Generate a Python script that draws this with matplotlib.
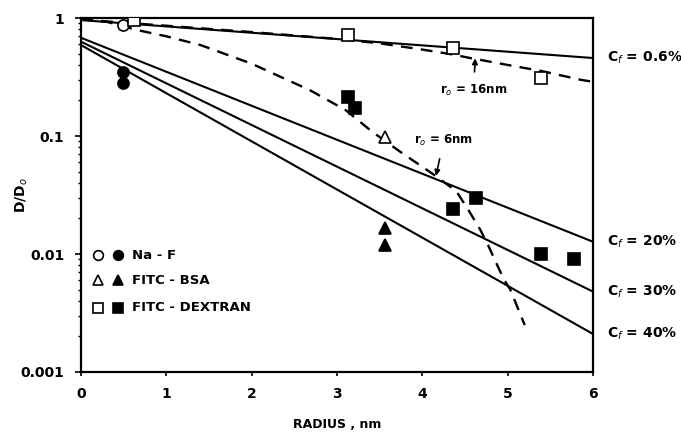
import numpy as np
import matplotlib
matplotlib.use("Agg")
import matplotlib.pyplot as plt

# Fitted lines (C_f): values at radius 0 and 6 nm
cf_labels = ["C$_f$ = 0.6%", "C$_f$ = 20%", "C$_f$ = 30%", "C$_f$ = 40%"]
cf_x = [0, 6]
cf_y = [[0.96, 0.458], [0.68, 0.0127], [0.63, 0.0048], [0.59, 0.0021]]

# Theoretical curves (dashed)
r16_x = [0, 1, 2, 3, 3.5, 4.0, 4.36, 4.56, 5.0, 5.4, 5.85, 6.0]
r16_y = [0.97, 0.86, 0.76, 0.665, 0.61, 0.54, 0.49, 0.458, 0.40, 0.355, 0.30, 0.288]
r6_x = [0, 0.3, 0.66, 1.0, 1.4, 2.0, 2.68, 3.1, 3.41, 3.74, 4.17, 4.40, 4.54, 4.68,
        4.77, 4.95, 5.03, 5.2]
r6_y = [1.0, 0.93, 0.79, 0.70, 0.59, 0.41, 0.245, 0.166, 0.109, 0.0736, 0.0452, 0.0339,
        0.0236, 0.0160, 0.0119, 0.0062, 0.0050, 0.0025]

# Data points
naf_open_x, naf_open_y = [0.49], [0.88]
naf_fill_x, naf_fill_y = [0.49, 0.49], [0.35, 0.28]
bsa_open_x, bsa_open_y = [3.56], [0.098]
bsa_fill_x, bsa_fill_y = [3.56, 3.56], [0.0166, 0.0119]
dex_open_x, dex_open_y = [0.62, 3.13, 4.36, 5.39], [0.96, 0.72, 0.557, 0.31]
dex_fill_x = [3.13, 3.21, 4.36, 4.63, 5.39, 5.78]
dex_fill_y = [0.214, 0.173, 0.024, 0.030, 0.010, 0.0091]

xticks = [0, 1, 2, 3, 4, 5, 6]
yticks = [0.001, 0.01, 0.1, 1]
ytick_labels = ["0.001", "0.01", "0.1", "1"]

plt.rcParams['font.family'] = ['DejaVu Sans']
fig = plt.figure(figsize=(6.81, 4.32), dpi=100)
ax = fig.add_axes([81/681, 60/432, 512/681, 354/432])
ax.set_yscale('log')
ax.set_xlim(0, 6)
ax.set_ylim(0.001, 1)

for (y0, y1), lab in zip(cf_y, cf_labels):
    ax.plot(cf_x, [y0, y1], color='black', lw=1.5, solid_capstyle='butt')
    ax.annotate(lab, xy=(6, y1), xytext=(10, 0), textcoords='offset points',
                ha='left', va='center', fontsize=10, fontweight='bold',
                annotation_clip=False)

ax.plot(r16_x, r16_y, color='black', lw=1.7, dashes=(5, 3.5))
ax.plot(r6_x, r6_y, color='black', lw=1.7, dashes=(5, 3.5))

ms = 8
mkw = dict(linestyle='none', color='black', markeredgewidth=1.2, zorder=5)
ax.plot(naf_open_x, naf_open_y, marker='o', markerfacecolor='white', markersize=ms, **mkw)
ax.plot(naf_fill_x, naf_fill_y, marker='o', markerfacecolor='black', markersize=ms, **mkw)
ax.plot(bsa_open_x, bsa_open_y, marker='^', markerfacecolor='white', markersize=ms, **mkw)
ax.plot(bsa_fill_x, bsa_fill_y, marker='^', markerfacecolor='black', markersize=ms, **mkw)
ax.plot(dex_open_x, dex_open_y, marker='s', markerfacecolor='white', markersize=ms, **mkw)
ax.plot(dex_fill_x, dex_fill_y, marker='s', markerfacecolor='black', markersize=ms, **mkw)

# Annotations
ax.annotate("r$_o$ = 16nm", xy=(4.62, 0.455), xytext=(4.6, 0.243),
            ha='center', va='center', fontsize=8.5, fontweight='bold',
            arrowprops=dict(arrowstyle='-|>', mutation_scale=8, color='black', lw=1.2,
                            shrinkA=6, shrinkB=0))
ax.annotate("r$_o$ = 6nm", xy=(4.16, 0.046), xytext=(4.25, 0.092),
            ha='center', va='center', fontsize=8.5, fontweight='bold',
            arrowprops=dict(arrowstyle='-|>', mutation_scale=8, color='black', lw=1.2,
                            shrinkA=6, shrinkB=0))

# Legend (manual)
leg_rows = [("o", "Na - F", 0.0098), ("^", "FITC - BSA", 0.0060), ("s", "FITC - DEXTRAN", 0.0035)]
for mk, txt, yy in leg_rows:
    ax.plot([0.2], [yy], marker=mk, markerfacecolor='white', markersize=7, **mkw)
    ax.plot([0.43], [yy], marker=mk, markerfacecolor='black', markersize=7, **mkw)
    ax.text(0.6, yy, txt, ha='left', va='center', fontsize=9.5, fontweight='bold')

ax.set_xticks(xticks)
ax.set_xticklabels([str(t) for t in xticks], fontsize=10, fontweight='bold')
ax.set_yticks(yticks)
ax.set_yticklabels(ytick_labels, fontsize=10, fontweight='bold')
ax.tick_params(axis='both', which='major', length=4, width=1.2, direction='out', pad=8)
ax.tick_params(axis='y', which='minor', length=2.5, width=1)
ax.tick_params(axis='x', which='major', length=3)

for s in ['top', 'right', 'left', 'bottom']:
    ax.spines[s].set_linewidth(1.6)

ax.set_xlabel("RADIUS , nm", fontsize=9, fontweight='bold')
ax.xaxis.set_label_coords((337 - 81) / 512, -(425 - 372) / 354)
ax.xaxis.label.set_va('center')
ax.set_ylabel("D/D$_o$", fontsize=10, fontweight='bold')
ax.yaxis.set_label_coords((22 - 81) / 512, (372 - 195) / 354)
ax.yaxis.label.set_va('center')

fig.savefig("out.png", dpi=100)
